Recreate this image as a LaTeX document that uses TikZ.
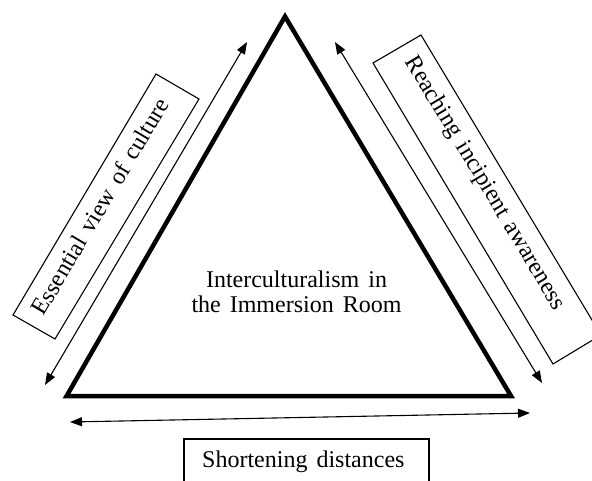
\documentclass[tikz,border=0pt]{standalone}
\usepackage{fontspec}
\setmainfont{Liberation Serif}[WordSpace=1.5]
\usetikzlibrary{arrows.meta}
\begin{document}
\begin{tikzpicture}[x=1pt,y=-1pt,
  tri/.style={line width=4.5pt, line join=miter},
  dbl/.style={line width=1.1pt, {Triangle[length=12pt,width=9pt]}-{Triangle[length=12pt,width=9pt]}},
  frame/.style={line width=1.1pt},
  lbl/.style={font=\fontsize{24}{25}\selectfont, inner sep=0pt}]
\clip (0,0) rectangle (592,481);
\fill[white] (0,0) rectangle (592,481);
% triangle
\coordinate (A) at (285,16.5);
\coordinate (B) at (511,396);
\coordinate (C) at (66.6,396);
\draw[tri] (A) -- (B) -- (C) -- cycle;
\node[lbl, align=center] (center) at (296.5,291.3) {Interculturalism in\\the Immersion Room};
% double arrows
\coordinate (l1) at (45,385);  \coordinate (l2) at (247,42);
\coordinate (r1) at (335,42);  \coordinate (r2) at (542,383);
\coordinate (b1) at (70,422);  \coordinate (b2) at (530,413);
\draw[dbl] (l1) -- (l2);
\draw[dbl] (r1) -- (r2);
\draw[dbl] (b1) -- (b2);
% left box
\draw[frame] (156,74) -- (199,99) -- (55,339) -- (13,315) -- cycle;
\node[lbl, rotate=59.3, anchor=base west] (ess) at (43.7,316.9) {Essential view of culture};
% right box
\draw[frame] (373,63) -- (421,35) -- (601,335) -- (553,364) -- cycle;
\node[lbl, rotate=-59.1, anchor=base west] (rea) at (404.7,61.1) {Reaching incipient awareness};
% bottom box
\draw[frame] (184,439) rectangle (429,500);
\node[lbl, anchor=base west] (sho) at (202,467) {Shortening distances};
\end{tikzpicture}
\end{document}
